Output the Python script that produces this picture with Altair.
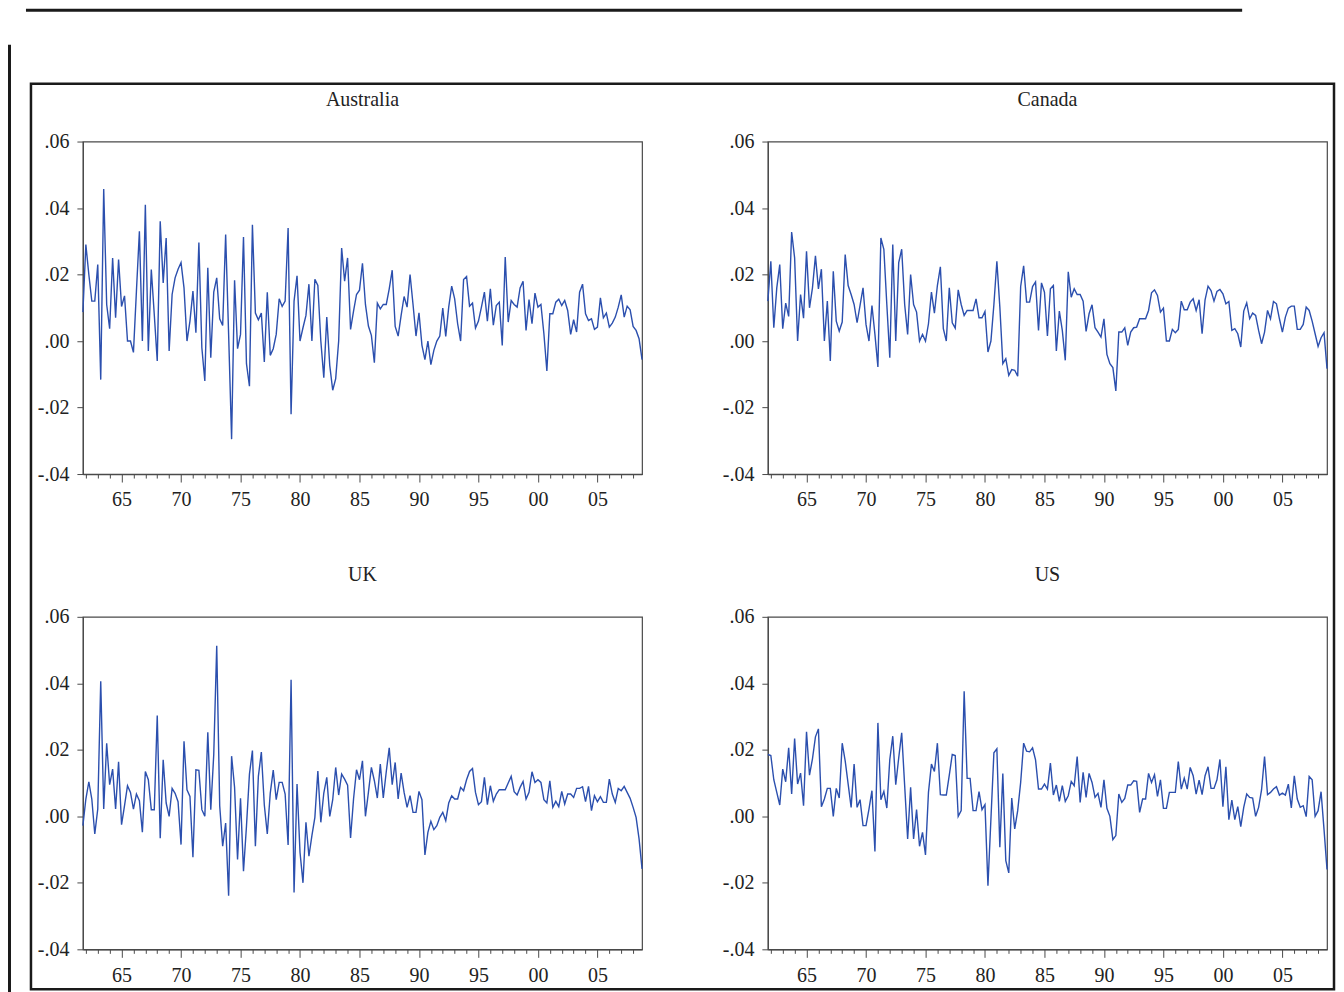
import altair as alt
import pandas as pd

# quarterly observations, 1961Q4 .. 2008Q4
START = 1961.75
STEP = 0.25

australia = [
    0.0087, 0.0290, 0.0200, 0.0120, 0.0120, 0.0230, -0.0116, 0.0457, 0.0110, 0.0037,
    0.0250, 0.0070, 0.0245, 0.0104, 0.0136, 0.0000, 0.0000, -0.0034, 0.0150, 0.0330,
    0.0000, 0.0410, -0.0030, 0.0215, 0.0080, -0.0060, 0.0360, 0.0175, 0.0310, -0.0030,
    0.0140, 0.0190, 0.0216, 0.0236, 0.0160, 0.0000, 0.0060, 0.0150, 0.0025, 0.0296,
    -0.0020, -0.0120, 0.0220, -0.0050, 0.0147, 0.0190, 0.0067, 0.0047, 0.0320, 0.0020,
    -0.0295, 0.0183, -0.0023, 0.0020, 0.0313, -0.0068, -0.0136, 0.0350, 0.0084, 0.0064,
    0.0084, -0.0063, 0.0147, -0.0043, -0.0023, 0.0020, 0.0127, 0.0104, 0.0120, 0.0340,
    -0.0220, 0.0120, 0.0196, 0.0000, 0.0040, 0.0077, 0.0171, 0.0000, 0.0186, 0.0167,
    0.0000, -0.0110, 0.0072, -0.0073, -0.0148, -0.0113, 0.0000, 0.0280, 0.0180, 0.0250,
    0.0035, 0.0090, 0.0140, 0.0153, 0.0234, 0.0110, 0.0045, 0.0017, -0.0065, 0.0114,
    0.0097, 0.0110, 0.0110, 0.0157, 0.0213, 0.0044, 0.0015, 0.0077, 0.0134, 0.0102,
    0.0200, 0.0110, 0.0015, 0.0085, -0.0013, -0.0056, 0.0000, -0.0071, -0.0028, 0.0000,
    0.0015, 0.0099, 0.0014, 0.0102, 0.0165, 0.0127, 0.0052, 0.0000, 0.0185, 0.0194,
    0.0105, 0.0114, 0.0039, 0.0060, 0.0102, 0.0147, 0.0060, 0.0157, 0.0048, 0.0107,
    0.0117, -0.0013, 0.0253, 0.0057, 0.0122, 0.0110, 0.0102, 0.0160, 0.0180, 0.0032,
    0.0125, 0.0052, 0.0144, 0.0102, 0.0110, 0.0022, -0.0090, 0.0082, 0.0082, 0.0117,
    0.0126, 0.0107, 0.0122, 0.0092, 0.0020, 0.0064, 0.0027, 0.0147, 0.0171, 0.0082,
    0.0062, 0.0067, 0.0035, 0.0042, 0.0130, 0.0070, 0.0084, 0.0042, 0.0054, 0.0072,
    0.0102, 0.0139, 0.0072, 0.0105, 0.0094, 0.0044, 0.0032, 0.0007, -0.0056,
]

canada = [
    0.0120, 0.0240, 0.0040, 0.0160, 0.0230, 0.0037, 0.0114, 0.0074, 0.0328, 0.0250,
    0.0000, 0.0140, 0.0069, 0.0270, 0.0100, 0.0160, 0.0256, 0.0157, 0.0216, 0.0000,
    0.0120, -0.0060, 0.0210, 0.0060, 0.0030, 0.0057, 0.0260, 0.0167, 0.0140, 0.0110,
    0.0055, 0.0107, 0.0160, 0.0050, 0.0000, 0.0107, 0.0020, -0.0078, 0.0310, 0.0276,
    0.0110, -0.0050, 0.0290, 0.0000, 0.0236, 0.0276, 0.0110, 0.0020, 0.0200, 0.0110,
    0.0087, 0.0000, 0.0020, 0.0000, 0.0052, 0.0147, 0.0084, 0.0167, 0.0223, 0.0037,
    0.0000, 0.0160, 0.0055, 0.0039, 0.0154, 0.0110, 0.0077, 0.0092, 0.0092, 0.0092,
    0.0127, 0.0070, 0.0070, 0.0089, -0.0033, 0.0000, 0.0110, 0.0240, 0.0102, -0.0068,
    -0.0053, -0.0103, -0.0086, -0.0088, -0.0106, 0.0164, 0.0226, 0.0117, 0.0117, 0.0164,
    0.0178, 0.0032, 0.0175, 0.0147, 0.0015, 0.0157, 0.0167, -0.0030, 0.0090, 0.0032,
    -0.0058, 0.0208, 0.0132, 0.0157, 0.0140, 0.0140, 0.0120, 0.0029, 0.0082, 0.0109,
    0.0040, 0.0027, 0.0012, 0.0067, -0.0040, -0.0068, -0.0080, -0.0150, 0.0027, 0.0027,
    0.0040, -0.0013, 0.0027, 0.0040, 0.0042, 0.0067, 0.0067, 0.0067, 0.0092, 0.0145,
    0.0154, 0.0137, 0.0087, 0.0099, 0.0000, 0.0000, 0.0035, 0.0025, 0.0035, 0.0120,
    0.0094, 0.0094, 0.0117, 0.0127, 0.0092, 0.0124, 0.0022, 0.0124, 0.0165, 0.0152,
    0.0120, 0.0149, 0.0155, 0.0142, 0.0112, 0.0119, 0.0032, 0.0037, 0.0022, -0.0018,
    0.0090, 0.0115, 0.0067, 0.0084, 0.0077, 0.0032, -0.0008, 0.0027, 0.0092, 0.0067,
    0.0119, 0.0112, 0.0067, 0.0027, 0.0072, 0.0099, 0.0105, 0.0105, 0.0035, 0.0035,
    0.0050, 0.0102, 0.0092, 0.0060, 0.0022, -0.0016, 0.0010, 0.0025, -0.0083,
]

uk = [
    -0.0028, 0.0052, 0.0104, 0.0052, -0.0053, 0.0022, 0.0406, 0.0022, 0.0220, 0.0095,
    0.0142, 0.0022, 0.0164, -0.0025, 0.0032, 0.0092, 0.0072, 0.0022, 0.0067, 0.0047,
    -0.0048, 0.0135, 0.0110, 0.0020, 0.0020, 0.0303, -0.0066, 0.0170, 0.0040, 0.0000,
    0.0084, 0.0069, 0.0044, -0.0085, 0.0226, 0.0080, 0.0060, -0.0123, 0.0140, 0.0138,
    0.0020, 0.0000, 0.0253, 0.0020, 0.0186, 0.0513, 0.0032, -0.0090, -0.0020, -0.0239,
    0.0181, 0.0087, -0.0130, 0.0054, -0.0165, -0.0030, 0.0127, 0.0198, -0.0090, 0.0120,
    0.0193, 0.0034, -0.0053, 0.0070, 0.0139, 0.0050, 0.0102, 0.0102, 0.0067, -0.0086,
    0.0411, -0.0229, 0.0097, -0.0108, -0.0200, -0.0018, -0.0120, -0.0058, -0.0003, 0.0136,
    -0.0018, 0.0070, 0.0117, 0.0000, 0.0050, 0.0147, 0.0064, 0.0127, 0.0112, 0.0094,
    -0.0065, 0.0052, 0.0140, 0.0110, 0.0167, 0.0000, 0.0072, 0.0147, 0.0107, 0.0055,
    0.0157, 0.0055, 0.0134, 0.0206, 0.0095, 0.0162, 0.0052, 0.0130, 0.0072, 0.0027,
    0.0062, 0.0012, 0.0012, 0.0075, 0.0050, -0.0116, -0.0048, -0.0015, -0.0040, -0.0028,
    -0.0003, 0.0012, -0.0013, 0.0040, 0.0062, 0.0052, 0.0052, 0.0087, 0.0077, 0.0110,
    0.0135, 0.0144, 0.0072, 0.0035, 0.0044, 0.0117, 0.0035, 0.0092, 0.0045, 0.0067,
    0.0080, 0.0080, 0.0080, 0.0100, 0.0120, 0.0074, 0.0064, 0.0087, 0.0105, 0.0052,
    0.0072, 0.0134, 0.0102, 0.0110, 0.0102, 0.0050, 0.0040, 0.0107, 0.0027, 0.0045,
    0.0029, 0.0075, 0.0037, 0.0067, 0.0067, 0.0057, 0.0084, 0.0084, 0.0089, 0.0044,
    0.0090, 0.0017, 0.0062, 0.0044, 0.0059, 0.0042, 0.0042, 0.0112, 0.0067, 0.0042,
    0.0084, 0.0077, 0.0090, 0.0072, 0.0054, 0.0027, -0.0003, -0.0068, -0.0158,
]

us = [
    0.0186, 0.0183, 0.0110, 0.0072, 0.0034, 0.0142, 0.0104, 0.0206, 0.0067, 0.0234,
    0.0097, 0.0130, 0.0032, 0.0254, 0.0124, 0.0173, 0.0239, 0.0263, 0.0029, 0.0052,
    0.0084, 0.0084, 0.0000, 0.0084, 0.0055, 0.0220, 0.0167, 0.0097, 0.0027, 0.0157,
    0.0027, 0.0050, -0.0028, -0.0028, 0.0022, 0.0077, -0.0106, 0.0281, 0.0050, 0.0075,
    0.0025, 0.0171, 0.0241, 0.0095, 0.0176, 0.0251, 0.0092, -0.0068, 0.0087, -0.0068,
    0.0020, -0.0090, -0.0048, -0.0116, 0.0072, 0.0157, 0.0135, 0.0220, 0.0065, 0.0064,
    0.0064, 0.0124, 0.0186, 0.0183, 0.0000, 0.0017, 0.0376, 0.0114, 0.0114, 0.0017,
    0.0017, 0.0074, 0.0020, 0.0035, -0.0209, -0.0008, 0.0191, 0.0203, -0.0093, 0.0129,
    -0.0133, -0.0170, 0.0055, -0.0038, 0.0017, 0.0102, 0.0220, 0.0196, 0.0194, 0.0206,
    0.0170, 0.0082, 0.0082, 0.0097, 0.0082, 0.0160, 0.0064, 0.0094, 0.0045, 0.0092,
    0.0045, 0.0062, 0.0105, 0.0092, 0.0180, 0.0042, 0.0132, 0.0057, 0.0129, 0.0102,
    0.0057, 0.0069, 0.0027, 0.0110, 0.0024, 0.0000, -0.0070, -0.0058, 0.0067, 0.0042,
    0.0054, 0.0094, 0.0094, 0.0107, 0.0105, 0.0012, 0.0052, 0.0052, 0.0129, 0.0102,
    0.0125, 0.0060, 0.0110, 0.0024, 0.0024, 0.0072, 0.0072, 0.0072, 0.0165, 0.0082,
    0.0115, 0.0082, 0.0147, 0.0122, 0.0067, 0.0109, 0.0065, 0.0122, 0.0149, 0.0084,
    0.0084, 0.0110, 0.0171, 0.0029, 0.0149, -0.0010, 0.0049, -0.0010, 0.0029, -0.0031,
    0.0027, 0.0067, 0.0057, 0.0055, 0.0000, 0.0027, 0.0080, 0.0180, 0.0065, 0.0072,
    0.0082, 0.0089, 0.0064, 0.0070, 0.0064, 0.0097, 0.0025, 0.0122, 0.0052, 0.0027,
    0.0032, -0.0001, 0.0120, 0.0110, 0.0000, 0.0017, 0.0074, -0.0040, -0.0160,
]

titles = ["Australia", "Canada", "UK", "US"]
x_ticks = list(range(1962, 2009))
y_ticks = [-0.04, -0.02, 0.00, 0.02, 0.04, 0.06]
x_domain = [1961.75, 2008.75]
y_domain = [-0.04, 0.06]

FONT = "Liberation Serif"
LINE = "#2b4fae"
AXIS = "#4a4a4a"
W, H = 560, 333

one = alt.Data(values=[{"k": 1}])


def series_frame(values):
    return pd.DataFrame({"t": [START + STEP * i for i in range(len(values))], "v": values})


def panel(title, values):
    line = alt.Chart(series_frame(values)).mark_line(color=LINE, strokeWidth=1.4).encode(
        x=alt.X(
            "t:Q",
            scale=alt.Scale(domain=x_domain, nice=False, zero=False),
            axis=alt.Axis(
                values=x_ticks,
                title=None,
                grid=False,
                labelExpr="datum.value % 5 == 0 ? substring(toString(datum.value), 2, 4) : ''",
                tickSize={"condition": {"test": "datum.value % 5 == 0", "value": 8}, "value": 4},
                labelPadding=8,
                labelFlush=False,
                labelOverlap=False,
            ),
        ),
        y=alt.Y(
            "v:Q",
            scale=alt.Scale(domain=y_domain, nice=False, zero=False),
            axis=alt.Axis(
                values=y_ticks,
                title=None,
                grid=False,
                tickSize=6,
                labelPadding=8,
                labelFlush=False,
                labelOverlap=False,
                labelExpr="(datum.value < -0.001 ? '-' : '') + '.' + format(abs(datum.value) * 100, '02d')",
            ),
        ),
    )
    head = alt.Chart(one).mark_text(
        text=title, font=FONT, fontSize=20, color="#222222", align="center", baseline="alphabetic"
    ).encode(x=alt.value(W / 2), y=alt.value(-36))
    return alt.layer(line, head).properties(width=W, height=H)


outer_frame = alt.Chart(one).mark_rect(
    fillOpacity=0, stroke="#1a1a1a", strokeWidth=2.5
).encode(x=alt.value(-52), x2=alt.value(1253), y=alt.value(-58), y2=alt.value(849))
top_rule = alt.Chart(one).mark_rule(color="#1a1a1a", strokeWidth=3).encode(
    x=alt.value(-57), x2=alt.value(1161), y=alt.value(-131.5)
)
left_rule = alt.Chart(one).mark_rule(color="#1a1a1a", strokeWidth=3).encode(
    x=alt.value(-73.5), y=alt.value(-97), y2=alt.value(852)
)

p_aus = alt.layer(outer_frame, top_rule, left_rule, panel(titles[0], australia))
p_can = panel(titles[1], canada)
p_uk = panel(titles[2], uk)
p_us = panel(titles[3], us)

chart = alt.ConcatChart(
    concat=[p_aus, p_can, p_uk, p_us],
    columns=2,
    spacing={"row": 143, "column": 126},
    bounds="flush",
).properties(
    padding={"left": -1, "top": -1, "right": 0, "bottom": 0},
    background="white",
).configure_view(
    stroke=AXIS, strokeWidth=1.2
).configure_axis(
    domainColor=AXIS, domainWidth=1.2, tickColor=AXIS, tickWidth=1,
    labelFont=FONT, labelFontSize=20, labelColor="#222222",
)

chart.save("out.html", embed_options={"renderer": "svg", "actions": False})
